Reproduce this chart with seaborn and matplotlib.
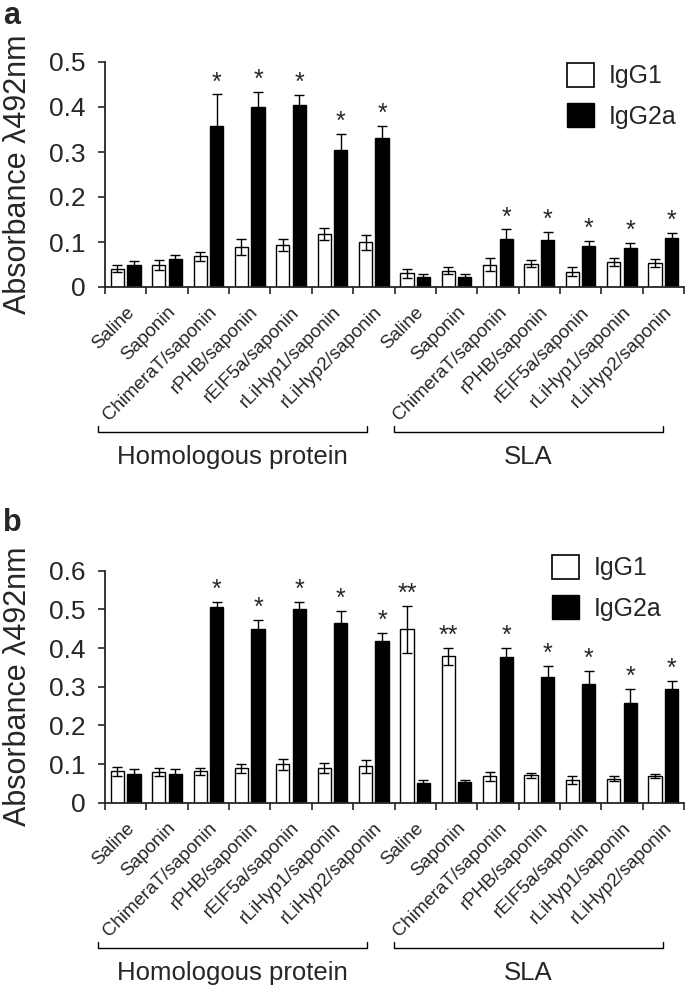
import numpy as np
import pandas as pd
import seaborn as sns
import matplotlib.pyplot as plt
from matplotlib.patches import Patch
from matplotlib.transforms import blended_transform_factory

# treatments, repeated for the two antigen groups
treatments = ["Saline", "Saponin", "ChimeraT/saponin", "rPHB/saponin",
              "rEIF5a/saponin", "rLiHyp1/saponin", "rLiHyp2/saponin"]
groups = ["Homologous protein", "SLA"]
isotypes = ["IgG1", "IgG2a"]

# panel a
a_igg1 = [0.041, 0.048, 0.068, 0.089, 0.094, 0.117, 0.099,
          0.031, 0.036, 0.050, 0.052, 0.034, 0.055, 0.053]
a_igg1_err = [0.008, 0.011, 0.010, 0.018, 0.013, 0.013, 0.016,
              0.010, 0.008, 0.014, 0.007, 0.010, 0.009, 0.009]
a_igg2a = [0.050, 0.062, 0.358, 0.401, 0.405, 0.305, 0.330,
           0.022, 0.022, 0.107, 0.105, 0.090, 0.087, 0.109]
a_igg2a_err = [0.008, 0.009, 0.070, 0.032, 0.022, 0.035, 0.027,
               0.007, 0.006, 0.021, 0.017, 0.012, 0.011, 0.012]
a_igg1_stars = [""] * 14
a_igg2a_stars = ["", "", "*", "*", "*", "*", "*",
                 "", "", "*", "*", "*", "*", "*"]

# panel b
b_igg1 = [0.081, 0.080, 0.081, 0.089, 0.099, 0.089, 0.094,
          0.448, 0.379, 0.068, 0.071, 0.059, 0.062, 0.068]
b_igg1_err = [0.012, 0.010, 0.010, 0.012, 0.015, 0.013, 0.016,
              0.061, 0.022, 0.012, 0.007, 0.011, 0.007, 0.005]
b_igg2a = [0.073, 0.075, 0.507, 0.448, 0.502, 0.466, 0.419,
           0.050, 0.053, 0.378, 0.324, 0.306, 0.259, 0.294]
b_igg2a_err = [0.014, 0.011, 0.013, 0.024, 0.017, 0.031, 0.019,
               0.009, 0.005, 0.022, 0.030, 0.034, 0.036, 0.020]
b_igg1_stars = ["", "", "", "", "", "", "",
                "**", "**", "", "", "", "", ""]
b_igg2a_stars = ["", "", "*", "*", "*", "*", "*",
                 "", "", "*", "*", "*", "*", "*"]

sns.set_style("ticks")
plt.rcParams['font.family'] = ['Liberation Sans', 'DejaVu Sans']

tick_labels = treatments * 2
keys = [g + "|" + t for g in groups for t in treatments]


def make_frame(v1, v2):
    rows = []
    for k, a, b in zip(keys, v1, v2):
        rows.append({"cond": k, "isotype": "IgG1", "value": a})
        rows.append({"cond": k, "isotype": "IgG2a", "value": b})
    return pd.DataFrame(rows)


def draw_panel(ax, v1, e1, s1, v2, e2, s2, ymax, letter, letter_y, leg_pos):
    df = make_frame(v1, v2)
    sns.barplot(data=df, x="cond", y="value", hue="isotype", order=keys,
                hue_order=isotypes, palette=["white", "black"],
                edgecolor="black", linewidth=1, width=0.8, gap=0.2,
                errorbar=None, legend=False, ax=ax)
    bars = ax.patches
    errs = list(e1) + list(e2)
    stars = list(s1) + list(s2)
    for bar, err, st in zip(bars, errs, stars):
        xc = bar.get_x() + bar.get_width() / 2
        h = bar.get_height()
        ax.errorbar(xc, h, yerr=err, fmt="none", ecolor="black",
                    elinewidth=1, capsize=3.5, capthick=1)
        if st:
            ax.text(xc, h + err, st, ha="center", va="bottom", fontsize=18)

    ax.set_xlim(-0.5, 13.5)
    ax.set_ylim(0, ymax)
    yt = np.round(np.arange(0, ymax + 0.001, 0.1), 1)
    ax.set_yticks(yt)
    ax.set_yticklabels(["0"] + [f"{v:.1f}" for v in yt[1:]], fontsize=19)
    ax.set_xticks(range(14))
    ax.set_xticklabels(tick_labels, rotation=45, ha="right",
                       rotation_mode="anchor", fontsize=13.5)
    ax.set_xticks(np.arange(-0.5, 14, 1), minor=True)
    ax.tick_params(axis="x", which="major", length=0, pad=12)
    ax.tick_params(axis="x", which="minor", length=5, width=1.2,
                   direction="out")
    ax.tick_params(axis="y", length=5, width=1.2, direction="out", pad=9)
    ax.set_xlabel("")
    ax.set_ylabel("Absorbance λ492nm", fontsize=22)
    ax.yaxis.set_label_coords(-0.124, 0.5)
    for sp in ["left", "bottom"]:
        ax.spines[sp].set_linewidth(1.3)
    sns.despine(ax=ax)

    # group brackets below the labels
    h_px = ax.get_position().height * fig.get_figheight() * fig.dpi
    trans = blended_transform_factory(ax.transData, ax.transAxes)
    y_line = -145 / h_px
    y_end = -139 / h_px
    y_txt = -170 / h_px
    for (x0, x1), name in zip([(-0.67, 5.83), (6.49, 12.99)], groups):
        ax.plot([x0, x0, x1, x1], [y_end, y_line, y_line, y_end],
                color="black", lw=1, transform=trans, clip_on=False)
        ax.text((x0 + x1) / 2, y_txt, name, transform=trans, ha="center",
                va="center", fontsize=18.5)

    handles = [Patch(facecolor="white", edgecolor="black", linewidth=1.2),
               Patch(facecolor="black", edgecolor="black")]
    ax.legend(handles, isotypes, loc="upper left", bbox_to_anchor=leg_pos,
              bbox_transform=fig.transFigure, frameon=False, fontsize=18,
              handlelength=1.08, handleheight=1.08, handletextpad=0.6,
              labelspacing=0.6, borderpad=0, borderaxespad=0)
    fig.text(0.004, letter_y, letter, fontsize=22, fontweight="bold",
             va="top", ha="left")


fig = plt.figure(figsize=(6.85, 9.86), dpi=100)
ax_a = fig.add_axes([105 / 685, 1 - 287 / 986, 579 / 685, 225 / 986])
ax_b = fig.add_axes([105 / 685, 1 - 802.7 / 986, 579 / 685, 232 / 986])

draw_panel(ax_a, a_igg1, a_igg1_err, a_igg1_stars,
           a_igg2a, a_igg2a_err, a_igg2a_stars, 0.5, "a", 1 - 1 / 986,
           (566.7 / 685, 1 - 63 / 986))
draw_panel(ax_b, b_igg1, b_igg1_err, b_igg1_stars,
           b_igg2a, b_igg2a_err, b_igg2a_stars, 0.6, "b", 1 - 508 / 986,
           (551.7 / 685, 1 - 555 / 986))

fig.savefig("out.png", dpi=100)
